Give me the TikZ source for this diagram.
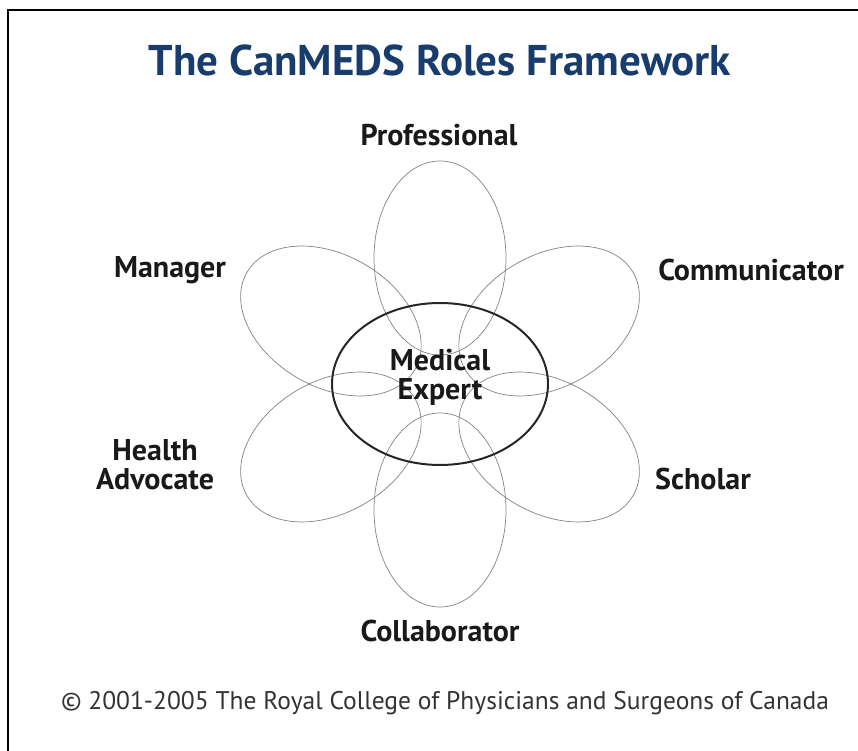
\documentclass[tikz,border=0pt]{standalone}
\usepackage{fontspec}
\setmainfont{PT Sans}
\usetikzlibrary{positioning}
\definecolor{TitleBlue}{RGB}{24,60,108}
\definecolor{PetalGray}{RGB}{130,130,130}

\tikzset{
	petal/.style={draw=PetalGray, line width=0.7pt},
	core/.style={draw=black!85, line width=2pt},
	role/.style={font=\fontsize{30}{29}\selectfont\bfseries, align=center, text=black!90},
}

\begin{document}
\begin{tikzpicture}[x=1pt, y=1pt]
		\useasboundingbox (0,0) rectangle (858,751);
		% frame, only top and left edge show
		\draw[line width=2pt] (8,0) -- (8,741) -- (858,741);
		
		\node[font=\fontsize{43}{46}\selectfont\bfseries, text=TitleBlue] (title) at (440,691) {The CanMEDS Roles Framework};
		
		\coordinate (C) at (440,367);
		% six petals round the centre
		\foreach \a in {90,30,-30,-90,-150,150}
			\draw[petal, shift={(C)}, rotate=\a] (126,0) ellipse (97 and 66);
		\draw[core] (C) ellipse (108 and 81);
		
		\node[role] (expert) at (440,374) {Medical\\Expert};
		\node[role] (prof) at (439,616) {Professional};
		\node[role] (manager) at (170,481) {Manager};
		\node[role] (comm) at (751,481) {Communicator};
		\node[role] (advocate) at (155,286) {Health\\Advocate};
		\node[role] (scholar) at (703,272) {Scholar};
		\node[role] (collab) at (440,120) {Collaborator};
		
		\node[font=\fontsize{25.5}{28}\selectfont, text=black!80] (copy) at (445,48) {\textcopyright{} 2001-2005 The Royal College of Physicians and Surgeons of Canada};
	\end{tikzpicture}
\end{document}
